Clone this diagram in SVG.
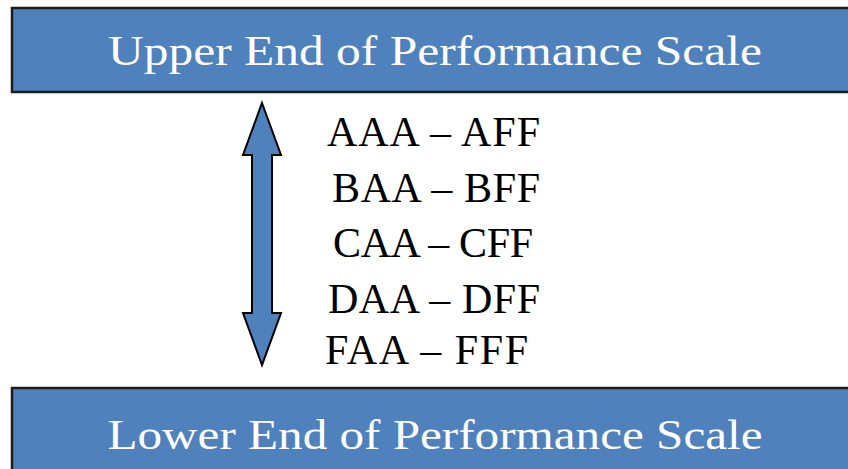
<svg xmlns="http://www.w3.org/2000/svg" width="848" height="469" viewBox="0 0 848 469">
<style>
.box{fill:#4F81BD;stroke:#1c1c1c;stroke-width:2.5}
.hdr{font-family:"Liberation Serif","DejaVu Serif",serif;font-size:42px;fill:#ffffff;text-anchor:middle}
.lbl{font-family:"Liberation Serif","DejaVu Serif",serif;font-size:42px;fill:#000000;text-anchor:middle}
.arrow{fill:#4F81BD;stroke:#000000;stroke-width:2;stroke-linejoin:miter}
</style>
<rect width="848" height="469" fill="#ffffff"/>
<g id="upper">
<rect class="box" x="12" y="8" width="850" height="84"/>
<text class="hdr" x="435" y="65" textLength="654" lengthAdjust="spacingAndGlyphs">Upper End of Performance Scale</text>
</g>
<g id="lower">
<rect class="box" x="12" y="388" width="850" height="100"/>
<text class="hdr" x="435" y="449" textLength="655" lengthAdjust="spacingAndGlyphs">Lower End of Performance Scale</text>
</g>
<g id="connectors">
<path class="arrow" d="M262,103 L281,155 L272,155 L272,313 L281,313 L262,365 L243,313 L252,313 L252,155 L243,155 Z"/>
</g>
<g id="labels">
<text class="lbl" x="433.5" y="146" textLength="213">AAA – AFF</text>
<text class="lbl" x="436" y="202" textLength="208">BAA – BFF</text>
<text class="lbl" x="433" y="257" textLength="200">CAA – CFF</text>
<text class="lbl" x="434" y="313" textLength="212">DAA – DFF</text>
<text class="lbl" x="426.5" y="364" textLength="203">FAA – FFF</text>
</g>
</svg>
